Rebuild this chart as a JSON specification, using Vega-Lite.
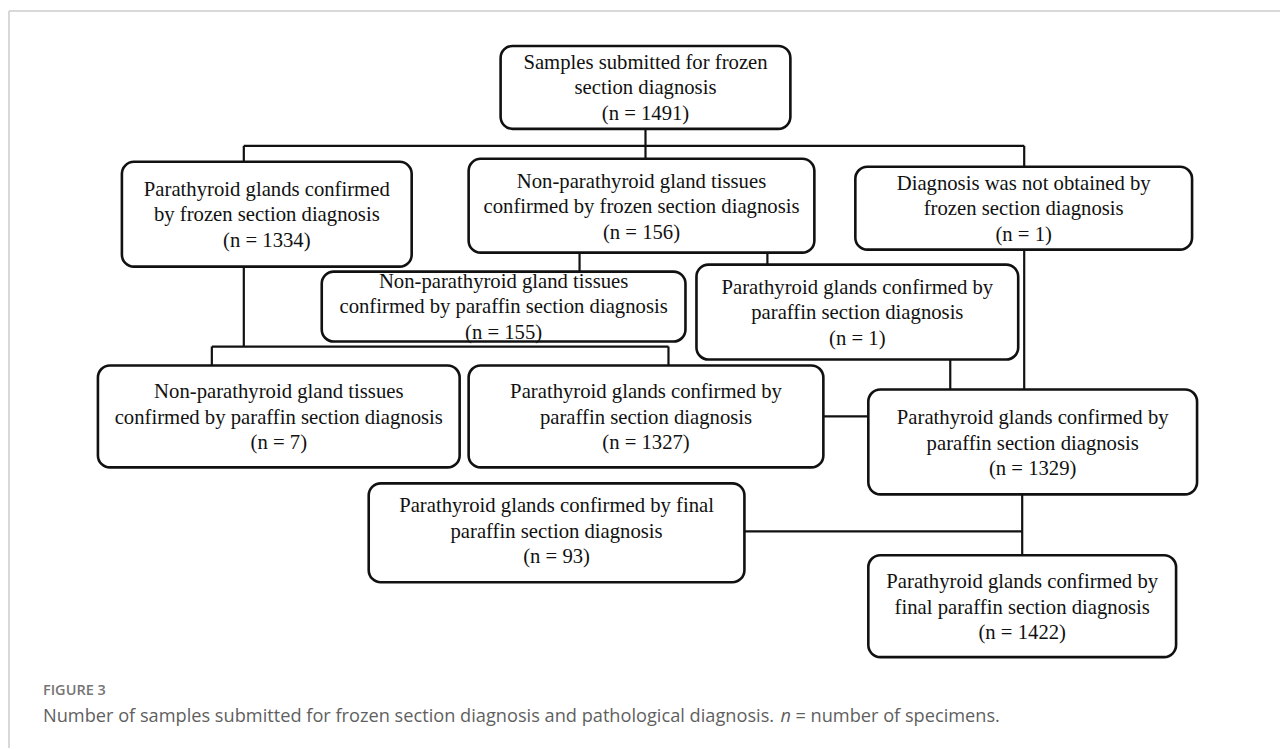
{
  "$schema": "https://vega.github.io/schema/vega-lite/v6.json",
  "width": 1281,
  "height": 749,
  "padding": 0,
  "autosize": {"type": "fit", "contains": "padding"},
  "background": "white",
  "config": {"view": {"stroke": null}},
  "datasets": {
    "frame": [
      {"x": 9, "y": 11, "x2": 1281, "y2": 11},
      {"x": 9, "y": 11, "x2": 9, "y2": 749}
    ],
    "links": [
      {"x": 646, "y": 129, "x2": 646, "y2": 159},
      {"x": 244, "y": 146, "x2": 1025, "y2": 146},
      {"x": 244, "y": 146, "x2": 244, "y2": 162},
      {"x": 1025, "y": 146, "x2": 1025, "y2": 167},
      {"x": 580, "y": 253, "x2": 580, "y2": 272},
      {"x": 768, "y": 253, "x2": 768, "y2": 265},
      {"x": 1025, "y": 250, "x2": 1025, "y2": 390},
      {"x": 244, "y": 267, "x2": 244, "y2": 347},
      {"x": 212, "y": 347, "x2": 669, "y2": 347},
      {"x": 212, "y": 347, "x2": 212, "y2": 366},
      {"x": 669, "y": 347, "x2": 669, "y2": 366},
      {"x": 824, "y": 417, "x2": 869, "y2": 417},
      {"x": 951, "y": 360, "x2": 951, "y2": 390},
      {"x": 1023, "y": 495, "x2": 1023, "y2": 556},
      {"x": 745, "y": 532, "x2": 1023, "y2": 532}
    ],
    "boxes": [
      {"x": 501, "x2": 791, "y": 46, "y2": 129, "ty": 63, "label": "Samples submitted for frozen\nsection diagnosis\n(n = 1491)"},
      {"x": 122, "x2": 412, "y": 162, "y2": 267, "ty": 190, "label": "Parathyroid glands confirmed\nby frozen section diagnosis\n(n = 1334)"},
      {"x": 469, "x2": 815, "y": 159, "y2": 253, "ty": 182, "label": "Non-parathyroid gland tissues\nconfirmed by frozen section diagnosis\n(n = 156)"},
      {"x": 856, "x2": 1193, "y": 167, "y2": 250, "ty": 184, "label": "Diagnosis was not obtained by\nfrozen section diagnosis\n(n = 1)"},
      {"x": 322, "x2": 686, "y": 272, "y2": 342, "ty": 282, "label": "Non-parathyroid gland tissues\nconfirmed by paraffin section diagnosis\n(n = 155)"},
      {"x": 697, "x2": 1019, "y": 265, "y2": 360, "ty": 288, "label": "Parathyroid glands confirmed by\nparaffin section diagnosis\n(n = 1)"},
      {"x": 98, "x2": 460, "y": 366, "y2": 468, "ty": 393, "label": "Non-parathyroid gland tissues\nconfirmed by paraffin section diagnosis\n(n = 7)"},
      {"x": 469, "x2": 824, "y": 366, "y2": 468, "ty": 393, "label": "Parathyroid glands confirmed by\nparaffin section diagnosis\n(n = 1327)"},
      {"x": 869, "x2": 1198, "y": 390, "y2": 495, "ty": 419, "label": "Parathyroid glands confirmed by\nparaffin section diagnosis\n(n = 1329)"},
      {"x": 369, "x2": 745, "y": 484, "y2": 583, "ty": 507, "label": "Parathyroid glands confirmed by final\nparaffin section diagnosis\n(n = 93)"},
      {"x": 869, "x2": 1177, "y": 556, "y2": 658, "ty": 583, "label": "Parathyroid glands confirmed by\nfinal paraffin section diagnosis\n(n = 1422)"}
    ],
    "caption": [
      {"x": 43, "y": 692, "text": "FIGURE 3", "kind": "head"},
      {"x": 43, "y": 718, "text": "Number of samples submitted for frozen section diagnosis and pathological diagnosis.", "kind": "body"},
      {"x": 781, "y": 718, "text": "n", "kind": "italic"},
      {"x": 796, "y": 718, "text": "= number of specimens.", "kind": "body"}
    ]
  },
  "encoding": {},
  "layer": [
    {
      "data": {"name": "frame"},
      "mark": {"type": "rule", "color": "#cccccc", "strokeWidth": 1.5},
      "encoding": {
        "x": {"field": "x", "type": "quantitative", "scale": {"domain": [0, 1281], "nice": false, "zero": false}, "axis": null},
        "x2": {"field": "x2"},
        "y": {"field": "y", "type": "quantitative", "scale": {"domain": [0, 749], "nice": false, "zero": false, "reverse": true}, "axis": null},
        "y2": {"field": "y2"}
      }
    },
    {
      "data": {"name": "links"},
      "mark": {"type": "rule", "color": "#111111", "strokeWidth": 2.2},
      "encoding": {
        "x": {"field": "x", "type": "quantitative", "scale": {"domain": [0, 1281], "nice": false, "zero": false}, "axis": null},
        "x2": {"field": "x2"},
        "y": {"field": "y", "type": "quantitative", "scale": {"domain": [0, 749], "nice": false, "zero": false, "reverse": true}, "axis": null},
        "y2": {"field": "y2"}
      }
    },
    {
      "data": {"name": "boxes"},
      "mark": {"type": "rect", "fill": "white", "stroke": "#111111", "strokeWidth": 2.6, "cornerRadius": 12},
      "encoding": {
        "x": {"field": "x", "type": "quantitative", "scale": {"domain": [0, 1281], "nice": false, "zero": false}, "axis": null},
        "x2": {"field": "x2"},
        "y": {"field": "y", "type": "quantitative", "scale": {"domain": [0, 749], "nice": false, "zero": false, "reverse": true}, "axis": null},
        "y2": {"field": "y2"}
      }
    },
    {
      "data": {"name": "boxes"},
      "transform": [{"calculate": "(datum.x + datum.x2) / 2", "as": "cx"}],
      "mark": {"type": "text", "font": "Liberation Serif", "fontSize": 20.7, "lineBreak": "\n", "lineHeight": 25.5, "align": "center", "baseline": "middle", "color": "#111111"},
      "encoding": {
        "x": {"field": "cx", "type": "quantitative", "scale": {"domain": [0, 1281], "nice": false, "zero": false}, "axis": null},
        "y": {"field": "ty", "type": "quantitative", "scale": {"domain": [0, 749], "nice": false, "zero": false, "reverse": true}, "axis": null},
        "text": {"field": "label"}
      }
    },
    {
      "data": {"name": "caption"},
      "transform": [{"filter": "datum.kind === 'head'"}],
      "mark": {"type": "text", "font": "Open Sans", "fontSize": 14.5, "fontWeight": 600, "align": "left", "baseline": "middle", "color": "#757575"},
      "encoding": {
        "x": {"field": "x", "type": "quantitative", "scale": {"domain": [0, 1281], "nice": false, "zero": false}, "axis": null},
        "y": {"field": "y", "type": "quantitative", "scale": {"domain": [0, 749], "nice": false, "zero": false, "reverse": true}, "axis": null},
        "text": {"field": "text"}
      }
    },
    {
      "data": {"name": "caption"},
      "transform": [{"filter": "datum.kind === 'body'"}],
      "mark": {"type": "text", "font": "Open Sans", "fontSize": 18.2, "align": "left", "baseline": "middle", "color": "#5f5f5f"},
      "encoding": {
        "x": {"field": "x", "type": "quantitative", "scale": {"domain": [0, 1281], "nice": false, "zero": false}, "axis": null},
        "y": {"field": "y", "type": "quantitative", "scale": {"domain": [0, 749], "nice": false, "zero": false, "reverse": true}, "axis": null},
        "text": {"field": "text"}
      }
    },
    {
      "data": {"name": "caption"},
      "transform": [{"filter": "datum.kind === 'italic'"}],
      "mark": {"type": "text", "font": "Open Sans", "fontSize": 18.2, "fontStyle": "italic", "align": "left", "baseline": "middle", "color": "#5f5f5f"},
      "encoding": {
        "x": {"field": "x", "type": "quantitative", "scale": {"domain": [0, 1281], "nice": false, "zero": false}, "axis": null},
        "y": {"field": "y", "type": "quantitative", "scale": {"domain": [0, 749], "nice": false, "zero": false, "reverse": true}, "axis": null},
        "text": {"field": "text"}
      }
    }
  ]
}
